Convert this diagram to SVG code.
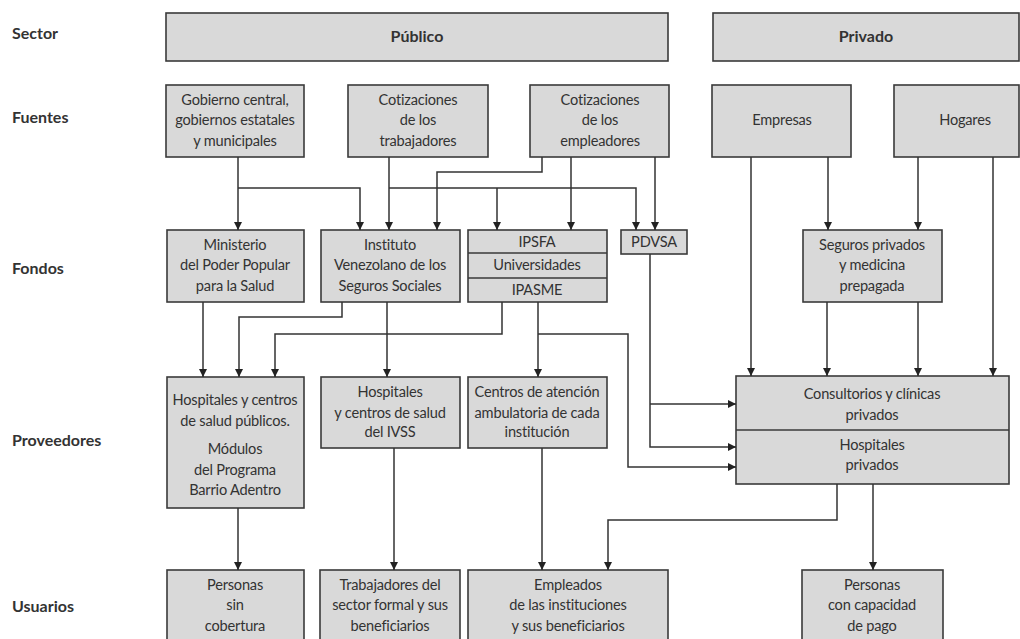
<svg xmlns="http://www.w3.org/2000/svg" width="1020" height="639" viewBox="0 0 1020 639">
<style>
.box{fill:#d9d9d9;stroke:#3a3a3a;stroke-width:1.6}
.div{stroke:#3a3a3a;stroke-width:1.6}
.t{font-family:Lato,"Liberation Sans",sans-serif;font-size:14.6px;fill:#333;text-anchor:middle;letter-spacing:-0.2px}
.b{font-family:Lato,"Liberation Sans",sans-serif;font-size:16px;font-weight:bold;fill:#333}
.bc{text-anchor:middle}
.c path{fill:none;stroke:#333;stroke-width:1.5}
</style>
<defs>
<marker id="ar" markerWidth="10" markerHeight="10" refX="8" refY="4" orient="auto" markerUnits="userSpaceOnUse">
<path d="M0,0 L8,4 L0,8 Z" fill="#222"/>
</marker>
</defs>
<rect width="1020" height="639" fill="#fff"/>
<g id="row-labels">
<text class="b" x="12" y="39">Sector</text>
<text class="b" x="12" y="123">Fuentes</text>
<text class="b" x="12" y="274">Fondos</text>
<text class="b" x="12" y="446">Proveedores</text>
<text class="b" x="12" y="612">Usuarios</text>
</g>
<g id="publico"><rect class="box" x="166" y="13" width="502" height="48"/><text class="b bc" x="417" y="42">Público</text></g>
<g id="privado"><rect class="box" x="713" y="13" width="306" height="48"/><text class="b bc" x="866" y="42">Privado</text></g>
<g id="gobierno"><rect class="box" x="166" y="85" width="138" height="72"/>
<text class="t" x="235" y="105">Gobierno central,</text><text class="t" x="235" y="125">gobiernos estatales</text><text class="t" x="235" y="146">y municipales</text></g>
<g id="cot-trab"><rect class="box" x="348" y="85" width="140" height="72"/>
<text class="t" x="418" y="105">Cotizaciones</text><text class="t" x="418" y="125">de los</text><text class="t" x="418" y="146">trabajadores</text></g>
<g id="cot-emp"><rect class="box" x="530" y="85" width="139" height="72"/>
<text class="t" x="600" y="105">Cotizaciones</text><text class="t" x="600" y="125">de los</text><text class="t" x="600" y="146">empleadores</text></g>
<g id="empresas"><rect class="box" x="712" y="85" width="139" height="72"/><text class="t" x="782" y="125">Empresas</text></g>
<g id="hogares"><rect class="box" x="894" y="85" width="125" height="72"/><text class="t" x="965" y="125">Hogares</text></g>
<g id="ministerio"><rect class="box" x="167" y="230" width="137" height="72"/>
<text class="t" x="235" y="250">Ministerio</text><text class="t" x="235" y="270">del Poder Popular</text><text class="t" x="235" y="291">para la Salud</text></g>
<g id="ivss"><rect class="box" x="321" y="230" width="139" height="72"/>
<text class="t" x="390" y="250">Instituto</text><text class="t" x="390" y="270">Venezolano de los</text><text class="t" x="390" y="291">Seguros Sociales</text></g>
<g id="ipsfa"><rect class="box" x="468" y="230" width="139" height="72"/>
<path class="div" d="M468,253H607M468,278H607"/>
<text class="t" x="537" y="247">IPSFA</text><text class="t" x="537" y="270">Universidades</text><text class="t" x="537" y="295">IPASME</text></g>
<g id="pdvsa"><rect class="box" x="621" y="230" width="66" height="24"/><text class="t" x="654" y="247">PDVSA</text></g>
<g id="seguros"><rect class="box" x="803" y="230" width="139" height="72"/>
<text class="t" x="872" y="250">Seguros privados</text><text class="t" x="872" y="270">y medicina</text><text class="t" x="872" y="291">prepagada</text></g>
<g id="hosp-pub"><rect class="box" x="167" y="377" width="137" height="131"/>
<text class="t" x="235" y="405">Hospitales y centros</text><text class="t" x="235" y="426">de salud públicos.</text>
<text class="t" x="235" y="454">Módulos</text><text class="t" x="235" y="475">del Programa</text><text class="t" x="235" y="495">Barrio Adentro</text></g>
<g id="hosp-ivss"><rect class="box" x="321" y="377" width="139" height="71"/>
<text class="t" x="390" y="397">Hospitales</text><text class="t" x="390" y="418">y centros de salud</text><text class="t" x="390" y="437">del IVSS</text></g>
<g id="centros"><rect class="box" x="468" y="377" width="139" height="71"/>
<text class="t" x="537" y="397">Centros de atención</text><text class="t" x="537" y="418">ambulatoria de cada</text><text class="t" x="537" y="437">institución</text></g>
<g id="privados"><rect class="box" x="736" y="376" width="273" height="108"/>
<path class="div" d="M736,430H1009"/>
<text class="t" x="872" y="399">Consultorios y clínicas</text><text class="t" x="872" y="420">privados</text>
<text class="t" x="872" y="450">Hospitales</text><text class="t" x="872" y="470">privados</text></g>
<g id="sin-cobertura"><rect class="box" x="167" y="570" width="137" height="78"/>
<text class="t" x="235" y="590">Personas</text><text class="t" x="235" y="610">sin</text><text class="t" x="235" y="631">cobertura</text></g>
<g id="trabajadores"><rect class="box" x="320" y="570" width="140" height="78"/>
<text class="t" x="390" y="590">Trabajadores del</text><text class="t" x="390" y="610">sector formal y sus</text><text class="t" x="390" y="631">beneficiarios</text></g>
<g id="empleados"><rect class="box" x="468" y="570" width="200" height="78"/>
<text class="t" x="568" y="590">Empleados</text><text class="t" x="568" y="610">de las instituciones</text><text class="t" x="568" y="631">y sus beneficiarios</text></g>
<g id="capacidad"><rect class="box" x="802" y="570" width="141" height="78"/>
<text class="t" x="872" y="590">Personas</text><text class="t" x="872" y="610">con capacidad</text><text class="t" x="872" y="631">de pago</text></g>
<g id="connectors" class="c">
<path d="M238,157V230" marker-end="url(#ar)"/>
<path d="M238,188H360V230" marker-end="url(#ar)"/>
<path d="M389,157V230" marker-end="url(#ar)"/>
<path d="M389,188H636V230" marker-end="url(#ar)"/>
<path d="M497,188V230" marker-end="url(#ar)"/>
<path d="M542,157V172H437V230" marker-end="url(#ar)"/>
<path d="M571,157V230" marker-end="url(#ar)"/>
<path d="M655,157V230" marker-end="url(#ar)"/>
<path d="M751,157V376" marker-end="url(#ar)"/>
<path d="M828,157V230" marker-end="url(#ar)"/>
<path d="M918,157V230" marker-end="url(#ar)"/>
<path d="M993,157V376" marker-end="url(#ar)"/>
<path d="M203,302V377" marker-end="url(#ar)"/>
<path d="M342,302V317H239V377" marker-end="url(#ar)"/>
<path d="M387,302V377" marker-end="url(#ar)"/>
<path d="M502,302V334H275V377" marker-end="url(#ar)"/>
<path d="M538,302V377" marker-end="url(#ar)"/>
<path d="M538,334H628V467H736" marker-end="url(#ar)"/>
<path d="M650,254V447H736" marker-end="url(#ar)"/>
<path d="M650,404H736" marker-end="url(#ar)"/>
<path d="M827,302V376" marker-end="url(#ar)"/>
<path d="M918,302V376" marker-end="url(#ar)"/>
<path d="M238,508V570" marker-end="url(#ar)"/>
<path d="M394,448V570" marker-end="url(#ar)"/>
<path d="M542,448V570" marker-end="url(#ar)"/>
<path d="M837,484V520H608V570" marker-end="url(#ar)"/>
<path d="M873,484V570" marker-end="url(#ar)"/>
</g>
</svg>
